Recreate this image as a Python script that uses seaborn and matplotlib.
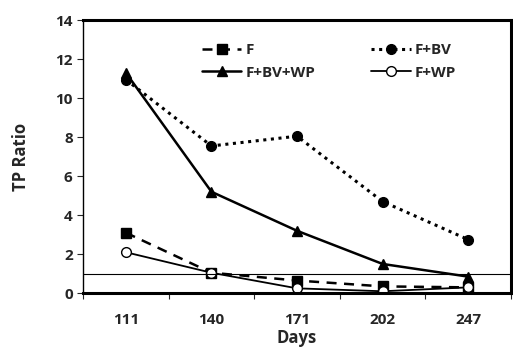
import matplotlib
matplotlib.use("Agg")
import matplotlib.pyplot as plt
import seaborn as sns
import pandas as pd
import numpy as np

days = ["111", "140", "171", "202", "247"]
f_vals = [3.1, 1.05, 0.65, 0.35, 0.3]
fbv_vals = [10.95, 7.55, 8.05, 4.7, 2.75]
fbvwp_vals = [11.3, 5.2, 3.2, 1.5, 0.85]
fwp_vals = [2.1, 1.05, 0.25, 0.1, 0.3]

sns.set_theme(style="white")
plt.rcParams['font.family'] = ['Open Sans', 'DejaVu Sans']
plt.rcParams['font.weight'] = 'bold'

fig, ax = plt.subplots(figsize=(5.13, 3.47), dpi=100)
fig.subplots_adjust(left=0.162, right=0.996, top=0.942, bottom=0.155)

pos = np.arange(len(days))
series = [
    ("F", f_vals, dict(linestyle=(0, (4, 3)), marker="s", markerfacecolor="black", lw=1.8)),
    ("F+BV+WP", fbvwp_vals, dict(linestyle="-", marker="^", markerfacecolor="black", lw=1.8)),
    ("F+BV", fbv_vals, dict(linestyle=(0, (1, 1.5)), marker="o", markerfacecolor="black", lw=2.2)),
    ("F+WP", fwp_vals, dict(linestyle="-", marker="o", markerfacecolor="white", lw=1.3)),
]
for name, vals, kw in series:
    df = pd.DataFrame({"x": pos, "y": vals})
    sns.lineplot(data=df, x="x", y="y", ax=ax, color="black", markersize=7,
                 markeredgecolor="black", markeredgewidth=1.0, label=name, **kw)

ax.axhline(1, color="black", lw=0.8)

ax.set_xlim(-0.5, 4.5)
ax.set_ylim(0, 14)
ax.set_yticks(range(0, 15, 2))
ax.set_xticks(pos)
ax.set_xticklabels(days)
ax.set_xticks(np.arange(-0.5, 4.6, 1), minor=True)
ax.tick_params(axis="x", which="major", length=0, pad=14, labelsize=11)
ax.tick_params(axis="x", which="minor", length=4, width=0.8, direction="out", bottom=True)
ax.tick_params(axis="y", length=4, width=0.8, direction="out", left=True, labelsize=11)
for lab in ax.get_xticklabels() + ax.get_yticklabels():
    lab.set_fontweight("bold")

ax.set_xlabel("Days", fontsize=12, fontweight="bold", labelpad=2)
ax.set_ylabel("TP Ratio", fontsize=12, fontweight="bold", labelpad=18)

for side in ["top", "right", "bottom"]:
    ax.spines[side].set_linewidth(2.2)
    ax.spines[side].set_color("black")
ax.spines["left"].set_linewidth(1.0)
ax.spines["left"].set_color("black")

leg = ax.legend(ncol=2, loc="upper left", bbox_to_anchor=(0.245, 0.965), frameon=False,
                columnspacing=3.7, handlelength=2.6, handletextpad=0.25,
                labelspacing=0.55, prop={"weight": "bold", "size": 11})

fig.savefig("out.png", dpi=100)
